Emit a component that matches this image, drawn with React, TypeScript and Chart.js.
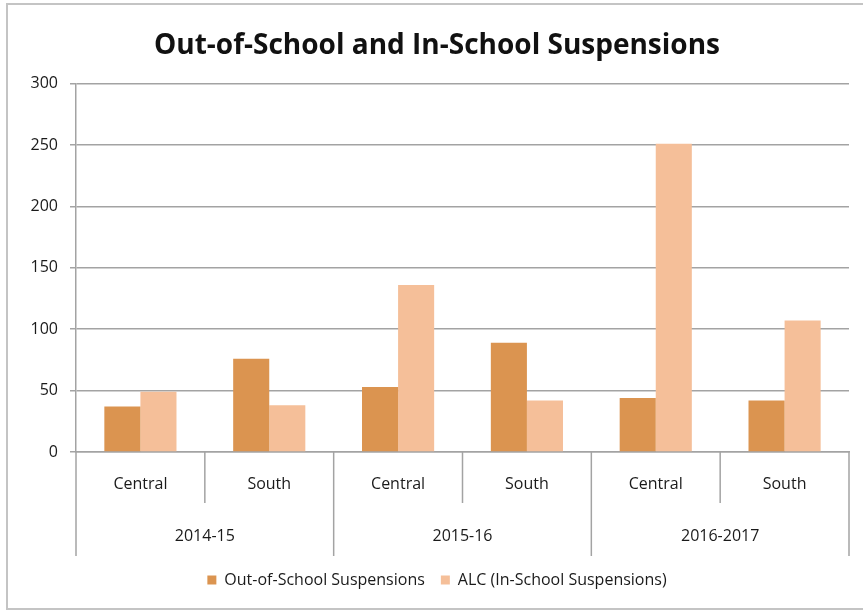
import React, { useEffect, useRef } from "react";
import { Chart, registerables } from "chart.js";

Chart.register(...registerables);

const schools = ["Central", "South", "Central", "South", "Central", "South"];
const years = ["2014-15", "2015-16", "2016-2017"];
const outOfSchool = [37, 76, 53, 89, 44, 42];
const inSchoolALC = [49, 38, 136, 42, 251, 107];
const yTicks = [0, 50, 100, 150, 200, 250, 300];

const FONT = "'Open Sans', sans-serif";
const GRID = "#a3a3a3";
const TEXT = "#1a1a1a";

const dividerPlugin = {
  id: "dividers",
  afterDraw(chart: any) {
    const x = chart.scales.x;
    const ctx = chart.ctx;
    const bottom = chart.chartArea.bottom;
    const n = schools.length;
    const w = (x.right - x.left) / n;
    ctx.save();
    ctx.strokeStyle = GRID;
    ctx.lineWidth = 1.5;
    for (let i = 0; i <= n; i++) {
      const px = x.left + i * w;
      const len = i % 2 === 0 ? 104 : 51;
      ctx.beginPath();
      ctx.moveTo(px, bottom);
      ctx.lineTo(px, bottom + len);
      ctx.stroke();
    }
    ctx.restore();
  },
};

export default function App() {
  const ref = useRef<HTMLCanvasElement | null>(null);

  useEffect(() => {
    if (!ref.current) return;
    const chart = new Chart(ref.current, {
      type: "bar",
      data: {
        labels: schools,
        datasets: [
          {
            label: "Out-of-School Suspensions",
            data: outOfSchool,
            backgroundColor: "#db9450",
            borderWidth: 0,
            barPercentage: 1,
            categoryPercentage: 0.56,
          },
          {
            label: "ALC (In-School Suspensions)",
            data: inSchoolALC,
            backgroundColor: "#f5bf99",
            borderWidth: 0,
            barPercentage: 1,
            categoryPercentage: 0.56,
          },
        ],
      },
      options: {
        responsive: false,
        animation: false,
        layout: { padding: { left: 25, right: 14, top: 0, bottom: 13 } },
        plugins: {
          title: {
            display: true,
            text: "Out-of-School and In-School Suspensions",
            color: "#111111",
            font: { family: FONT, size: 28, weight: "bold" },
            padding: { top: 29, bottom: 21 },
          },
          legend: {
            position: "bottom",
            labels: {
              color: TEXT,
              font: { family: FONT, size: 16 },
              boxWidth: 9,
              boxHeight: 9,
              padding: 16,
            },
          },
          tooltip: { enabled: false },
        },
        scales: {
          x: {
            type: "category",
            offset: true,
            grid: { display: false, drawTicks: false },
            border: { display: true, color: GRID, width: 1.5 },
            ticks: {
              color: TEXT,
              font: { family: FONT, size: 16 },
              padding: 23,
              maxRotation: 0,
              autoSkip: false,
            },
            afterFit(scale: any) {
              scale.height = 51;
            },
          },
          x2: {
            type: "category",
            labels: years,
            position: "bottom",
            offset: true,
            weight: 1,
            grid: { display: false, drawTicks: false },
            border: { display: false },
            ticks: {
              color: TEXT,
              font: { family: FONT, size: 16 },
              padding: 24,
              maxRotation: 0,
              autoSkip: false,
            },
            afterFit(scale: any) {
              scale.height = 53;
            },
          },
          y: {
            min: 0,
            max: 300,
            afterBuildTicks(scale: any) {
              scale.ticks = yTicks.map((v) => ({ value: v }));
            },
            grid: { color: GRID, lineWidth: 1.5, tickLength: 6 },
            border: { display: true, color: GRID, width: 1.5 },
            ticks: {
              color: TEXT,
              font: { family: FONT, size: 16 },
              padding: 12,
            },
            afterFit(scale: any) {
              scale.width = 51;
            },
          },
        },
      },
      plugins: [dividerPlugin],
    });
    return () => chart.destroy();
  }, []);

  return (
    <div
      style={{
        position: "absolute",
        left: 0,
        top: 0,
        width: 863,
        height: 611,
        overflow: "hidden",
        background: "#ffffff",
      }}
    >
      <div
        style={{
          position: "absolute",
          left: 6,
          top: 3,
          width: 900,
          height: 603,
          border: "2px solid #c4c4c4",
        }}
      />
      <canvas
        ref={ref}
        width={863}
        height={611}
        style={{ position: "absolute", left: 0, top: 0 }}
      />
    </div>
  );
}
